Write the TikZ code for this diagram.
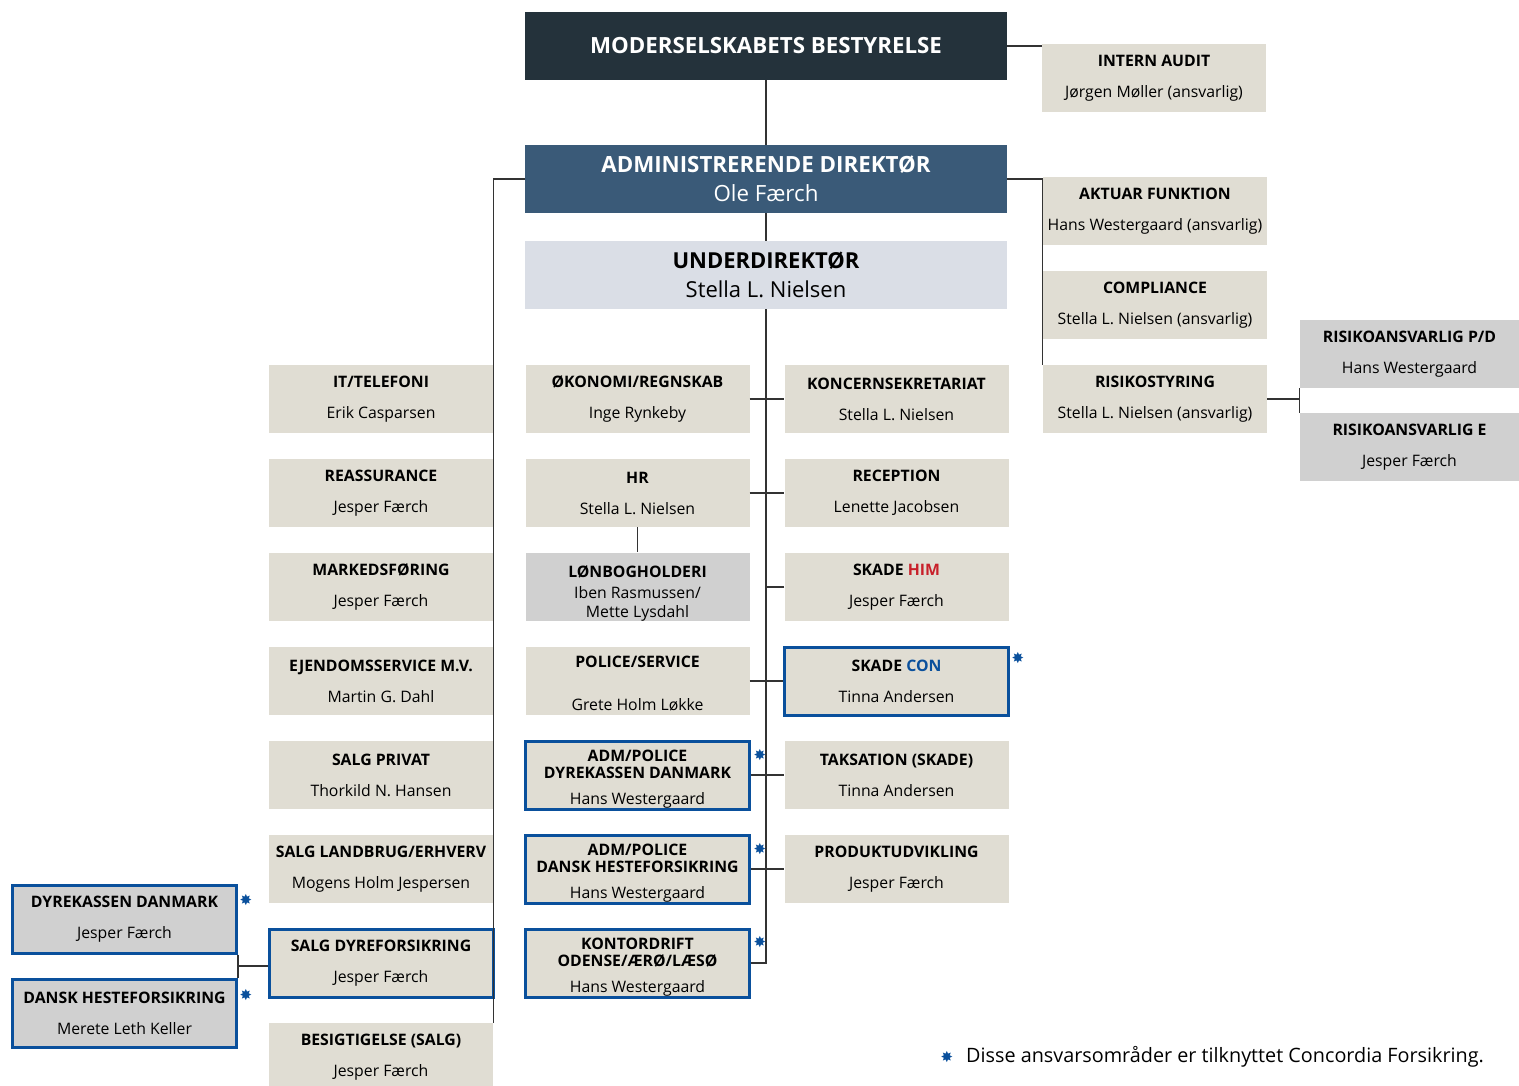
\documentclass[tikz,border=0pt]{standalone}
\usepackage{fontspec}
\setmainfont{Open Sans}
\newfontfamily\symbolfont{DejaVu Sans}
\usepackage{xcolor}
\usetikzlibrary{positioning}
\usetikzlibrary{calc}

\definecolor{boardgray}{RGB}{36,50,59}
\definecolor{adminblue}{RGB}{58,90,120}
\definecolor{deputygray}{RGB}{218,222,230}
\definecolor{unitbeige}{RGB}{224,221,211}
\definecolor{unitgray}{RGB}{208,208,208}
\definecolor{conblue}{RGB}{10,80,156}
\definecolor{himred}{RGB}{200,32,42}
\definecolor{linegray}{RGB}{51,51,51}

\newcommand{\unitlabel}[2]{{\bfseries #1}\\[12pt]#2}
% three-line boxes sit a little lower in their box
\newcommand{\lowtop}[1]{\rule{0pt}{#1}}

\begin{document}
\begin{tikzpicture}[
  x=1pt, y=-1pt,
  font=\fontsize{15.8}{19}\selectfont,
  board/.style={fill=boardgray, text=white, minimum width=482pt, minimum height=68pt, inner sep=0pt, align=center, font=\fontsize{22.3}{26}\selectfont\bfseries},
  director/.style={board, fill=adminblue, font=\fontsize{22.3}{26}\selectfont},
  deputy/.style={board, fill=deputygray, text=black, font=\fontsize{22}{26}\selectfont},
  unit/.style={fill=unitbeige, minimum width=224pt, minimum height=68pt, inner sep=0pt, align=center},
  grayunit/.style={unit, fill=unitgray},
  conunit/.style={unit, draw=conblue, line width=3pt},
  link/.style={draw=linegray, line width=1.2pt},
  star/.style={text=conblue, inner sep=0pt, font=\symbolfont\fontsize{15}{15}\selectfont}
]

\useasboundingbox (0,0) rectangle (1519,1086);

% Top management
\node[board] (moder) at (766,46) {MODERSELSKABETS BESTYRELSE};
\node[director] (admin) at (766,179) {\textbf{ADMINISTRERENDE DIREKTØR}\\[3pt]Ole Færch};
\node[deputy] (under) at (766,275) {\textbf{UNDERDIREKTØR}\\[3pt]Stella L. Nielsen};

% Staff functions
\node[unit] (audit)  at (1154,78)  {\unitlabel{INTERN AUDIT}{Jørgen Møller (ansvarlig)}};
\node[unit] (aktuar) at (1155,211) {\unitlabel{AKTUAR FUNKTION}{Hans Westergaard (ansvarlig)}};
\node[unit] (compl)  at (1155,305) {\unitlabel{COMPLIANCE}{Stella L. Nielsen (ansvarlig)}};
\node[unit] (risiko) at (1155,399) {\unitlabel{RISIKOSTYRING}{Stella L. Nielsen (ansvarlig)}};
\node[grayunit, minimum width=219pt] (risipd) at (1409.5,354) {\unitlabel{RISIKOANSVARLIG P/D}{Hans Westergaard}};
\node[grayunit, minimum width=219pt] (risie)  at (1409.5,447) {\unitlabel{RISIKOANSVARLIG E}{Jesper Færch}};

% Left column
\node[unit] (it)       at (381,399)  {\unitlabel{IT/TELEFONI}{Erik Casparsen}};
\node[unit] (reass)    at (381,493)  {\unitlabel{REASSURANCE}{Jesper Færch}};
\node[unit] (marked)   at (381,587)  {\unitlabel{MARKEDSFØRING}{Jesper Færch}};
\node[unit] (ejend)    at (381,681)  {\unitlabel{EJENDOMSSERVICE M.V.}{Martin G. Dahl}};
\node[unit] (salgpriv) at (381,775)  {\unitlabel{SALG PRIVAT}{Thorkild N. Hansen}};
\node[unit] (salgland) at (381,869)  {\unitlabel{SALG LANDBRUG/ERHVERV}{Mogens Holm Jespersen}};
\node[conunit] (salgdyr) at (381,963) {\unitlabel{SALG DYREFORSIKRING}{Jesper Færch}};
\node[unit] (besig)    at (381,1057) {\unitlabel{BESIGTIGELSE (SALG)}{Jesper Færch}};

% Far left (Concordia)
\node[conunit, fill=unitgray] (dyrek) at (124.5,919)  {\unitlabel{DYREKASSEN DANMARK}{Jesper Færch}};
\node[conunit, fill=unitgray] (heste) at (124.5,1013) {\unitlabel{DANSK HESTEFORSIKRING}{Merete Leth Keller}};

% Middle column
\node[unit] (oek)    at (637.5,399) {\unitlabel{ØKONOMI/REGNSKAB}{Inge Rynkeby}};
\node[unit] (hr)     at (637.5,493) {\unitlabel{HR}{Stella L. Nielsen}};
\node[grayunit] (loen) at (637.5,587) {\lowtop{25pt}\textbf{LØNBOGHOLDERI}\\[2pt]Iben Rasmussen/\\Mette Lysdahl};
\node[unit] (police) at (637.5,681) {\lowtop{16pt}\textbf{POLICE/SERVICE}\\[24pt]Grete Holm Løkke};
\node[conunit] (admdyr)   at (637.5,775) {\lowtop{19pt}\textbf{ADM/POLICE}\\[-2pt]\textbf{DYREKASSEN DANMARK}\\[7pt]Hans Westergaard};
\node[conunit] (admheste) at (637.5,869) {\lowtop{19pt}\textbf{ADM/POLICE}\\[-2pt]\textbf{DANSK HESTEFORSIKRING}\\[7pt]Hans Westergaard};
\node[conunit] (kontor)   at (637.5,963) {\lowtop{19pt}\textbf{KONTORDRIFT}\\[-2pt]\textbf{ODENSE/ÆRØ/LÆSØ}\\[7pt]Hans Westergaard};

% Right column
\node[unit] (koncern) at (896.5,399) {\unitlabel{KONCERNSEKRETARIAT}{Stella L. Nielsen}};
\node[unit] (recep)   at (896.5,493) {\unitlabel{RECEPTION}{Lenette Jacobsen}};
\node[unit] (skhim)   at (896.5,587) {\unitlabel{SKADE {\color{himred}HIM}}{Jesper Færch}};
\node[conunit] (skcon) at (896.5,681) {\unitlabel{SKADE {\color{conblue}CON}}{Tinna Andersen}};
\node[unit] (taks)    at (896.5,775) {\unitlabel{TAKSATION (SKADE)}{Tinna Andersen}};
\node[unit] (produkt) at (896.5,869) {\unitlabel{PRODUKTUDVIKLING}{Jesper Færch}};

% Lines
\draw[link] (moder) -- (admin);
\draw[link] (admin) -- (under);
\draw[link] (under.south) |- (kontor.east);
\draw[link] (moder.east) -- (audit.west |- moder.east);
\draw[link] (admin.east) -| (risiko.north west);
\draw[link] (admin.west) -| (besig.north east);
\draw[link] (risiko.east) -- (risiko.east -| risipd.west);
\draw[link] (risipd.south west) -- (risie.north west);
\draw[link] (oek) -- (koncern);
\draw[link] (hr) -- (recep);
\draw[link] (hr) -- (loen);
\draw[link] (skhim.west) -- (skhim.west -| under.south);
\draw[link] (police) -- (skcon);
\draw[link] (admdyr) -- (taks);
\draw[link] (admheste) -- (produkt);
\draw[link] (dyrek.south east) -- (heste.north east);
\coordinate (dyrejoin) at ($(dyrek.south east)!0.5!(heste.north east)$);
\draw[link] (dyrejoin) -- (dyrejoin -| salgdyr.west);

% Concordia marks
\node[star] (s1) at (1018,658) {✸};
\node[star] (s2) at (760,755) {✸};
\node[star] (s3) at (760,849) {✸};
\node[star] (s4) at (760,942) {✸};
\node[star] (s5) at (246,900) {✸};
\node[star] (s6) at (246,995) {✸};
\node[star] (s7) at (947,1057) {✸};
\node[anchor=west, inner sep=0pt, font=\fontsize{19.8}{22}\selectfont] (note) at (966,1057) {Disse ansvarsområder er tilknyttet Concordia Forsikring.};

\end{tikzpicture}
\end{document}
